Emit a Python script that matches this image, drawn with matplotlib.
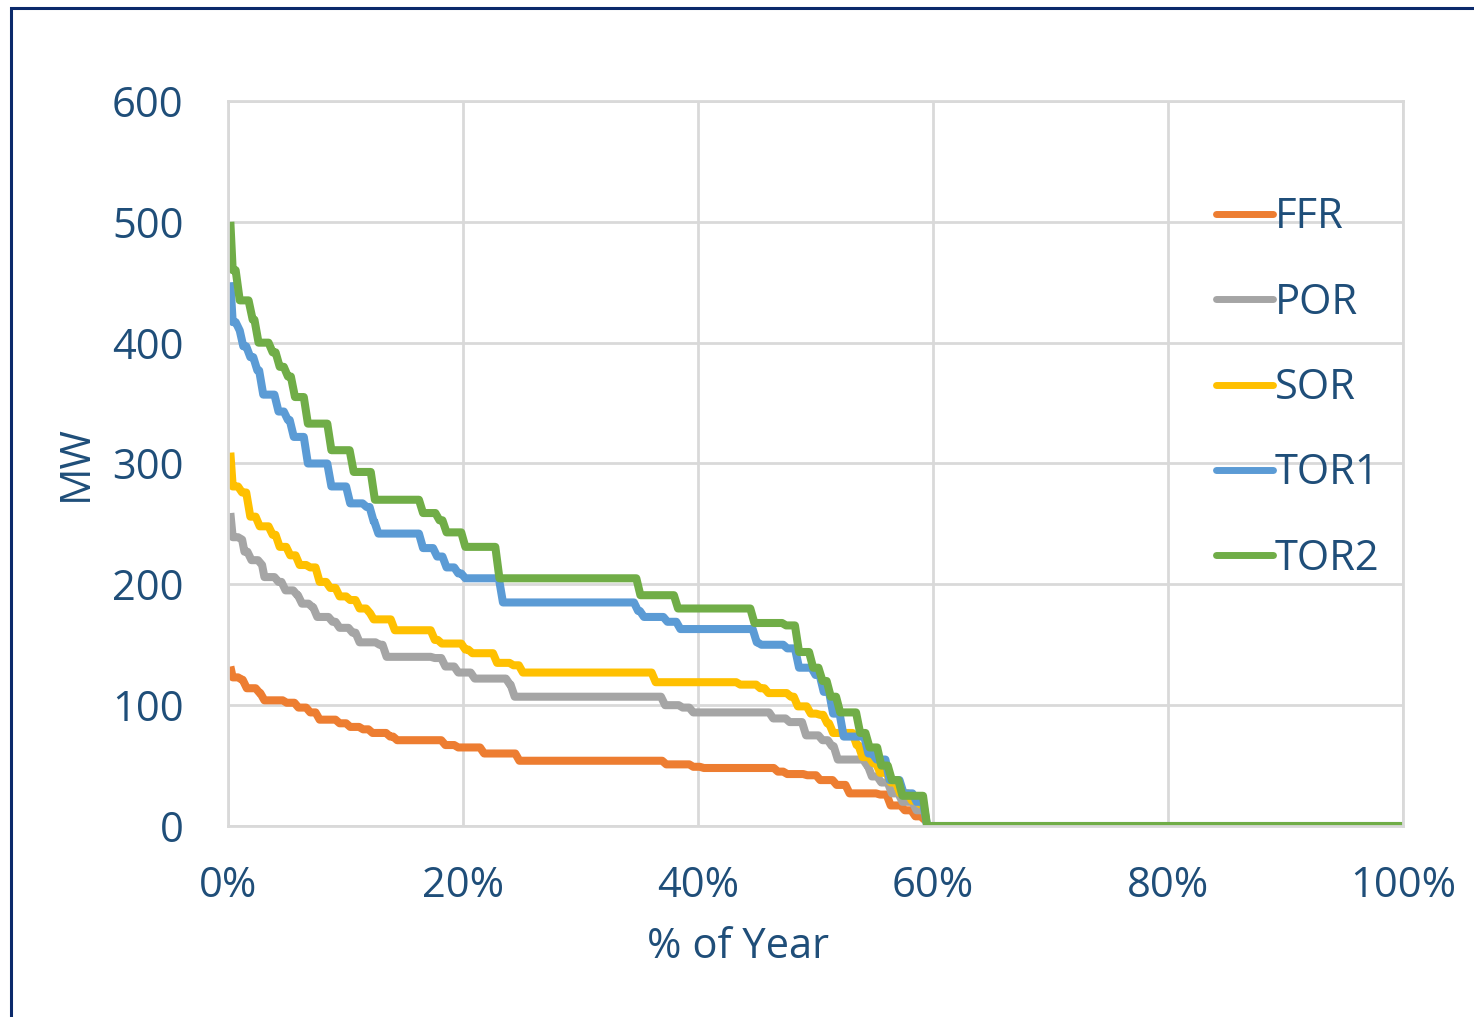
import matplotlib
matplotlib.use("Agg")
import matplotlib.pyplot as plt
from matplotlib.patches import Rectangle

plt.rcParams['font.family'] = ['Open Sans', 'DejaVu Sans']

# step breakpoints: % of year where each level begins, and MW level
ffr_x = [0.2, 0.4, 1.2, 1.6, 2.7, 3.1, 5.0, 6.0, 7.0, 7.8, 9.5, 10.4, 11.5, 12.3, 13.8, 14.4,
         18.5, 19.6, 21.8, 24.8, 37.3, 39.6, 40.5, 46.8, 47.6, 49.3, 50.4, 51.8, 52.9,
         55.5, 56.4, 57.6, 58.5, 59.3]
ffr_y = [132, 123, 121, 114, 110, 104, 102, 98, 94, 88, 85, 82, 80, 77, 74, 71,
         67, 65, 60, 54, 51, 49, 48, 45, 43, 42, 38, 34, 27,
         26, 17, 13, 8, 5]

por_x = [0.2, 0.4, 1.2, 1.4, 2.0, 2.9, 3.1, 4.3, 4.9, 5.9, 6.3, 7.2, 7.6, 8.9, 9.5, 10.6,
         11.2, 12.9, 13.5, 17.6, 18.5, 19.6, 21.0, 24.0, 24.4, 37.2, 38.7, 39.6, 46.4,
         47.8, 49.2, 50.6, 51.4, 51.9, 54.4, 54.8, 55.6, 56.5, 57.4, 58.6]
por_y = [259, 239, 237, 227, 220, 216, 206, 202, 195, 191, 184, 181, 173, 169, 164, 160,
         152, 150, 140, 139, 132, 127, 122, 117, 107, 100, 98, 94, 89,
         86, 75, 71, 66, 55, 50, 41, 36, 27, 20, 13]

sor_x = [0.2, 0.4, 1.2, 1.9, 2.7, 3.8, 4.4, 5.3, 6.1, 7.0, 7.8, 8.7, 9.5, 10.4, 11.2,
         12.1, 12.4, 14.2, 17.6, 18.2, 20.2, 20.8, 22.9, 24.3, 25.1, 36.4, 43.6, 45.3,
         46.0, 47.9, 48.5, 49.6, 50.4, 51.0, 51.5, 53.5, 54.0, 54.9, 55.5, 56.4, 57.2,
         58.2, 58.9]
sor_y = [309, 281, 276, 256, 248, 241, 231, 224, 216, 214, 202, 197, 190, 187, 180,
         176, 171, 162, 154, 151, 146, 143, 135, 133, 127, 119, 117, 114,
         110, 107, 99, 93, 92, 85, 77, 67, 57, 52, 44, 36, 27,
         21, 18]

tor1_x = [0.2, 0.4, 1.0, 1.3, 1.9, 2.5, 3.0, 4.3, 5.1, 5.6, 6.8, 8.8, 10.4, 11.8, 12.4,
          12.8, 16.6, 17.8, 18.6, 19.6, 20.2, 23.4, 34.9, 35.4, 37.4, 38.5, 45.0, 45.4,
          47.6, 48.6, 50.0, 50.7, 51.5, 52.4, 54.5, 55.2, 56.3, 57.5, 58.6, 59.5]
tor1_y = [450, 417, 410, 397, 388, 377, 357, 343, 336, 322, 300, 281, 267, 264, 252,
          242, 230, 223, 214, 209, 205, 185, 178, 173, 169, 163, 152, 150,
          147, 131, 125, 111, 93, 74, 60, 55, 38, 27, 20, 0]

tor2_x = [0.2, 0.4, 1.0, 2.1, 2.6, 3.8, 4.4, 5.1, 5.7, 6.8, 8.8, 10.7, 12.5, 16.6, 18.0,
          18.6, 20.2, 23.1, 35.1, 38.3, 44.8, 47.5, 48.6, 49.8, 50.6, 51.3, 52.1, 53.8,
          54.6, 55.6, 56.5, 57.4, 59.5]
tor2_y = [500, 460, 435, 419, 400, 392, 380, 372, 355, 333, 311, 293, 270, 259, 253,
          243, 231, 205, 191, 180, 168, 166, 144, 131, 120, 107, 94, 77,
          65, 50, 38, 25, 0]

series = [("FFR", ffr_x, ffr_y, "#ED7D31"),
          ("POR", por_x, por_y, "#A5A5A5"),
          ("SOR", sor_x, sor_y, "#FFC000"),
          ("TOR1", tor1_x, tor1_y, "#5B9BD5"),
          ("TOR2", tor2_x, tor2_y, "#70AD47")]

txt = "#1F4E79"
grid = "#D9D9D9"


def stepped(xs, ys, end, slant=0.35):
    # hold each level, then a short sloped drop into the next level
    px, py = [xs[0]], [ys[0]]
    for i in range(1, len(xs)):
        px += [max(xs[i] - slant, px[-1]), xs[i]]
        py += [ys[i - 1], ys[i]]
    px.append(end)
    py.append(ys[-1])
    return px, py


fig = plt.figure(figsize=(14.74, 10.17), dpi=100)
ax = fig.add_axes([228/1474, 1-826/1017, (1403-228)/1474, (826-101)/1017])

for name, xs, ys, col in series:
    end = 100 if ys[-1] == 0 else xs[-1] + 0.4
    px, py = stepped(xs, ys, end)
    ax.plot(px, py, color=col, lw=5.8, solid_joinstyle="round",
            solid_capstyle="butt", label=name)

ax.set_xlim(0, 100)
ax.set_ylim(0, 600)
ax.set_xticks(range(0, 101, 20))
ax.set_xticklabels([f"{v}%" for v in range(0, 101, 20)])
ax.set_yticks(range(0, 601, 100))
ax.grid(True, color=grid, lw=2)
ax.set_axisbelow(True)
for s in ax.spines.values():
    s.set_color(grid)
    s.set_linewidth(2)
ax.tick_params(length=0, labelsize=30, labelcolor=txt)
ax.tick_params(axis="y", pad=32)
ax.tick_params(axis="x", pad=28)
ax.set_xlabel("% of Year", fontsize=30, color=txt)
ax.xaxis.set_label_coords((738-228)/1175, -(926-826)/725)
ax.set_ylabel("MW", fontsize=30, color=txt, labelpad=11)

leg = ax.legend(loc="upper left", bbox_to_anchor=(1178/1474, 1-159/1017),
                bbox_transform=fig.transFigure, frameon=False, fontsize=30,
                labelcolor=txt, handlelength=1.37, handletextpad=0.06,
                labelspacing=1.04)
for h in leg.get_lines():
    h.set_linewidth(5)
    h.set_solid_capstyle("round")

fig.patches.append(Rectangle((11/1474, -0.1), 1.2, 1.1 - 8/1017, transform=fig.transFigure,
                             fill=False, edgecolor="#0B2A6B", lw=2.2, zorder=10))

fig.savefig("out.png", dpi=100)
